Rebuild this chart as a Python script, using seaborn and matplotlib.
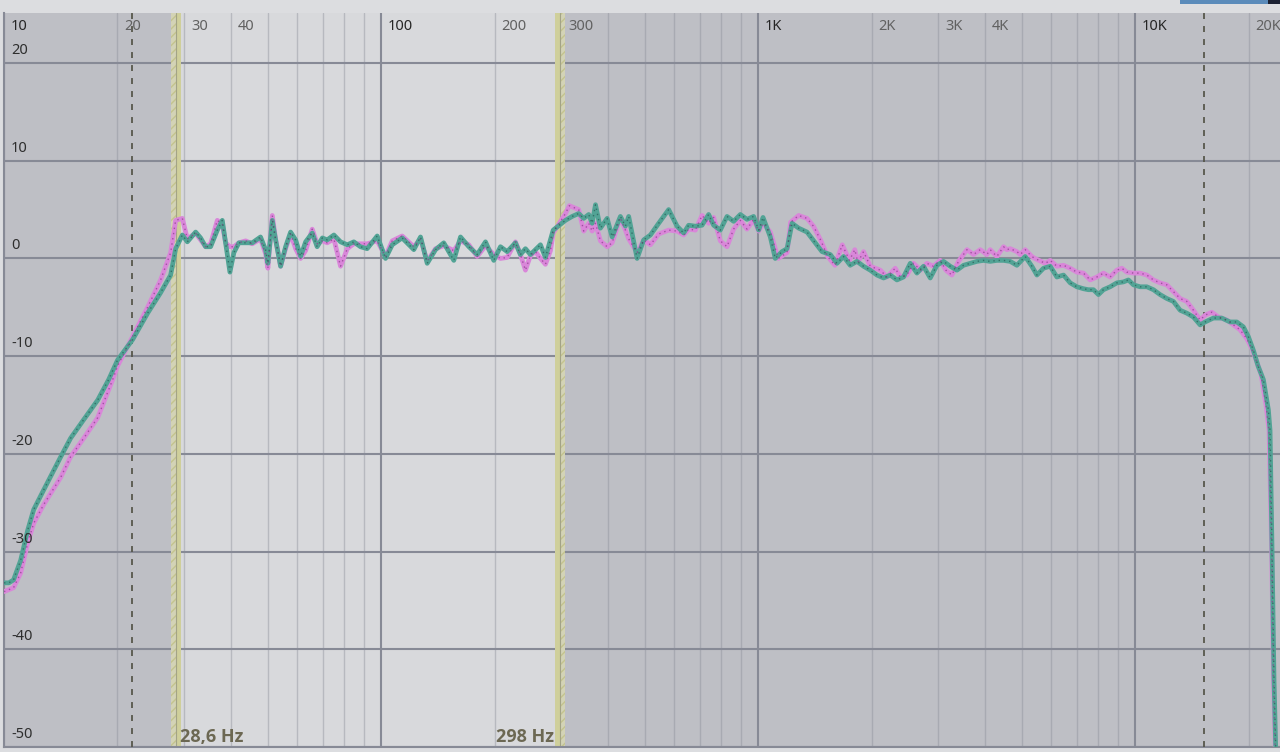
import pandas as pd
import seaborn as sns
import matplotlib.pyplot as plt
import matplotlib.transforms as mtransforms
from matplotlib.patches import Rectangle

teal_hz = [10.0, 10.3, 10.6, 11.07, 11.56, 11.99, 12.74, 14.14, 15.02, 16.27, 17.72, 18.95, 20.01, 21.94, 24.04, 26.03, 27.67, 28.53,
           29.72, 30.64, 32.23, 33.23, 34.26, 35.32, 36.8, 37.93, 38.71, 39.74, 40.72, 41.98, 43.74, 45.56, 47.91, 49.4, 50.11,
           51.48, 52.53, 54.16, 55.84, 57.57, 59.36, 61.2, 63.1, 65.7, 67.7, 69.9, 72.0, 75.0, 78.1, 81.4, 84.7, 88.2, 91.9,
           97.7, 102.8, 107.1, 113.8, 122.2, 127.3, 132.6, 139.5, 146.7, 156.0, 162.5, 171.0, 179.9, 189.3, 199.1, 207.4,
           216.1, 227.3, 234.3, 241.6, 249.1, 256.8, 264.8, 273.0, 281.5, 286.2,
           308.5, 321.3, 334.5, 344.9, 355.6, 363.1, 370.6, 381.9, 397.9, 410.2, 431.5, 444.9, 453.9, 477.8, 497.5, 518.3,
           545.2, 579.4, 610.0, 635.1, 654.6, 682.0, 710.5, 739.6, 762.6, 794.3, 827.5, 861.5, 897.6, 935.0, 973.4, 1004,
           1031, 1078, 1111, 1158, 1194, 1231, 1282, 1349, 1419, 1478, 1555, 1620, 1686, 1756, 1830, 1905, 1985, 2068,
           2153, 2243, 2336, 2432, 2534, 2639, 2748, 2863, 2982, 3105, 3235, 3370, 3509, 3655, 3807, 3964, 4129, 4301,
           4479, 4666, 4860,
           5113, 5326, 5492, 5718, 5957, 6205, 6462, 6730, 7010, 7300, 7522, 7757, 7998, 8246, 8590, 8948, 9318, 9605,
           9903, 10316, 10747, 11190, 11655, 12142, 12643, 13171, 13721, 14286, 14882, 15344, 16140, 16986, 17868, 18616,
           19381, 19980, 20600, 21200, 21900, 22580, 22810, 23090, 23370, 23660]
teal_db = [-33.2, -33.2, -32.9, -30.9, -27.8, -25.7, -23.7, -20.3, -18.4, -16.5, -14.5, -12.4, -10.4, -8.3, -5.6, -3.5, -1.7, 1.0,
           2.4, 1.7, 2.7, 2.1, 1.2, 1.2, 2.9, 3.9, 1.6, -1.4, 0.6, 1.6, 1.6, 1.6, 2.2, 0.9, -0.5,
           3.9, 1.9, -0.8, 1.2, 2.7, 1.9, 0.2, 1.7, 2.6, 1.2, 2.1, 1.9, 2.4, 1.7, 1.4, 1.7, 1.2, 1.0,
           2.3, 0.0, 1.4, 2.1, 0.9, 2.2, -0.5, 0.9, 1.6, -0.2, 2.2, 1.2, 0.4, 1.7, -0.2, 1.2,
           0.7, 1.6, 0.4, 1.0, 0.4, 0.9, 1.4, 0.1, 1.9, 2.9,
           3.9, 4.3, 4.6, 4.1, 4.5, 3.6, 5.5, 3.1, 4.1, 2.2, 4.3, 3.3, 4.3, 0.0, 1.9, 2.4,
           3.6, 5.0, 3.3, 2.6, 3.4, 3.3, 3.4, 4.5, 3.4, 2.9, 4.3, 3.8, 4.5, 4.0, 4.3, 2.9,
           4.2, 2.2, 0.0, 0.7, 1.0, 3.6, 3.1, 2.7, 1.6, 0.7, 0.4, -0.5, 0.2, -0.7, -0.3, -0.8, -1.2, -1.7,
           -2.0, -1.7, -2.2, -1.9, -0.5, -1.5, -0.8, -2.0, -0.7, -0.3, -0.8, -1.2, -0.7, -0.5, -0.3, -0.2, -0.3, -0.2,
           -0.2, -0.3, -0.7,
           0.2, -0.8, -1.7, -1.0, -0.8, -1.9, -1.7, -2.5, -2.9, -3.1, -3.2, -3.2, -3.7, -3.2, -2.9, -2.5, -2.4, -2.2,
           -2.7, -2.9, -2.9, -3.2, -3.7, -4.1, -4.4, -5.3, -5.6, -6.0, -6.8, -6.5, -6.1, -6.1, -6.5, -6.5,
           -7.0, -8.0, -9.4, -11.0, -12.4, -15.5, -17.6, -29.8, -43.1, -51.4]

pink_hz = [10.0, 10.6, 11.07, 11.56, 11.99, 12.74, 14.14, 15.02, 16.27, 17.72, 19.42, 20.01, 21.94, 24.04, 26.03, 27.67, 28.53,
           29.72, 30.64, 32.23, 33.23, 34.26, 35.32, 36.8, 37.93, 38.71, 39.74, 40.72, 41.98, 43.74, 45.56, 47.91, 49.4, 50.11,
           51.48, 52.53, 54.16, 55.84, 57.57, 59.36, 61.2, 63.1, 65.7, 67.7, 69.9, 72.0, 75.0, 78.1, 81.4, 84.7, 88.2, 91.9,
           97.7, 102.8, 107.1, 113.8, 122.2, 127.3, 132.6, 139.5, 146.7, 156.0, 162.5, 171.0, 179.9, 189.3, 199.1, 207.4,
           216.1, 227.3, 234.3, 241.6, 249.1, 256.8, 264.8, 273.0, 281.5, 286.2,
           308.5, 316.0, 334.5, 344.9, 355.6, 363.1, 370.6, 381.9, 397.9, 410.2, 431.5, 444.9, 453.9, 477.8, 497.5, 518.3,
           545.2, 579.4, 610.0, 635.1, 654.6, 682.0, 710.5, 739.6, 762.6, 794.3, 827.5, 861.5, 897.6, 935.0, 973.4, 1004,
           1031, 1078, 1111, 1132, 1194, 1220, 1282, 1349, 1403, 1465, 1530, 1600, 1673, 1748, 1806, 1840, 1905, 1985,
           2111, 2198, 2312, 2384, 2483, 2585, 2700, 2805, 2920, 3043, 3150, 3268, 3402, 3583, 3729, 3885, 4047, 4129,
           4301, 4479, 4572, 4666, 4860, 4960, 5113, 5326, 5426, 5778, 5957, 6205, 6462, 6730, 7010, 7300, 7603, 7921,
           8246, 8590, 8948, 9226, 9513, 9903, 10316, 10747, 11190, 11655, 12142, 12643, 13171, 13721, 14286, 14882,
           15344, 15985, 16640, 17515, 18239, 18993, 19787, 20400, 20950, 21600, 22260, 22670, 23030, 23300, 23590]
pink_db = [-34.1, -33.7, -32.2, -29.1, -27.1, -25.2, -22.4, -20.3, -18.4, -16.3, -12.4, -11.0, -8.0, -5.0, -2.2, 0.6, 3.9,
           4.1, 2.0, 2.6, 1.9, 1.2, 1.5, 3.9, 3.5, 1.6, 1.2, 1.2, 1.6, 1.8, 1.5, 2.0, 0.5, -1.0,
           4.4, 2.0, -0.8, 1.0, 2.5, 1.0, 0.0, 0.8, 3.0, 1.5, 1.8, 1.6, 2.0, -0.8, 1.0, 1.5, 1.5, 1.5,
           1.8, 0.2, 1.8, 2.3, 1.2, 2.0, -0.3, 1.0, 1.3, 0.8, 1.8, 1.4, 0.2, 1.3, 0.4, 0.0,
           0.1, 1.7, 0.4, -1.2, 0.3, 0.7, 0.0, -0.6, 0.8, 2.6,
           4.6, 5.4, 5.0, 2.8, 3.6, 2.8, 3.6, 1.8, 1.2, 1.6, 4.2, 2.9, 2.0, 0.6, 1.9, 1.4,
           2.5, 2.9, 2.8, 2.4, 3.0, 2.9, 4.4, 3.6, 4.2, 1.8, 1.2, 3.0, 3.9, 3.0, 4.0, 2.8,
           3.6, 2.7, 1.0, 0.0, 0.6, 3.7, 4.4, 4.1, 3.3, 1.9, 0.2, -0.7, 1.4, -0.2, 0.9, -0.4, 0.7, -0.8,
           -1.2, -1.9, -1.0, -1.9, -1.7, -0.5, -1.2, -0.5, -0.8, -0.2, -1.2, -1.7, -0.3, 0.9, 0.4, 0.9, 0.4, 0.9,
           0.2, 1.2, 0.9, 1.0, 0.7, 0.4, 0.9, 0.2, 0.0, -0.5, -0.2, -0.8, -0.7, -1.0, -1.4, -1.5, -2.2, -1.9,
           -1.5, -1.9, -1.2, -1.0, -1.4, -1.5, -1.5, -1.7, -2.2, -2.5, -2.7, -3.4, -4.1, -4.4, -5.3, -6.3,
           -5.8, -5.5, -6.0, -6.3, -6.8, -7.3, -8.2, -9.2, -10.4, -11.9, -15.0, -17.6, -29.8, -43.1, -51.4]

# axis labels / markers
x_ticks = [10, 20, 30, 40, 100, 200, 300, 1000, 2000, 3000, 4000, 10000, 20000]
x_labels = ['10', '20', '30', '40', '100', '200', '300', '1K', '2K', '3K', '4K', '10K', '20K']
y_ticks = [20, 10, 0, -10, -20, -30, -40, -50]
marker_hz = [28.6, 298]
marker_labels = ['28,6 Hz', '298 Hz']
dash_hz = [21.9, 15200]

assert len(teal_hz) == len(teal_db) and len(pink_hz) == len(pink_db)

sns.set_theme(style='white')
plt.rcParams['font.family'] = ['Noto Sans', 'DejaVu Sans']

W, H = 1280, 752
fig = plt.figure(figsize=(W / 100, H / 100), dpi=100, facecolor='#dcdde0')
ax = fig.add_axes([4 / W, 5 / H, 1 - 4 / W, (H - 13 - 5) / H])
ax.set_xscale('log')

dark_bg = '#bebfc5'
light_bg = '#d8d9dc'
ax.set_facecolor(dark_bg)

# response curves: thick stroke with dark dots on top
curves = [(pink_hz, pink_db, '#d987d9', '#8d3f8d'),
          (teal_hz, teal_db, '#52a395', '#2a5f58')]
for hz, db, c_line, c_dot in curves:
    df = pd.DataFrame({'hz': hz, 'db': db})
    sns.lineplot(data=df, x='hz', y='db', ax=ax, color=c_line, lw=3.4,
                 sort=False, estimator=None, zorder=4)
    sns.lineplot(data=df, x='hz', y='db', ax=ax, color=c_dot, lw=1.0, ls=(0, (1, 2.8)),
                 alpha=0.75, sort=False, estimator=None, zorder=5)
ax.set_xlabel('')
ax.set_ylabel('')

ax.set_xlim(10, 24240)
ax.set_ylim(-50, 25.12)

# marker bands (solid part faces the light window, hatched part outside)
w = 1.031
lo, hi = marker_hz
ax.axvspan(lo * w, hi / w, color=light_bg, lw=0, zorder=0)
ax.axvspan(lo / w, lo, facecolor='#d3d3b6', edgecolor='#c4c48e', hatch='////', lw=0, zorder=1)
ax.axvspan(lo, lo * w, color='#cfcf9b', lw=0, zorder=1)
ax.axvspan(hi / w, hi, color='#cfcf9b', lw=0, zorder=1)
ax.axvspan(hi, hi * w, facecolor='#d3d3b6', edgecolor='#c4c48e', hatch='////', lw=0, zorder=1)
for f in marker_hz:
    ax.axvline(f, color='#a3a386', lw=0.8, zorder=1.5)

# grid
minor = [m * 10 ** k for k in range(1, 5) for m in range(2, 10)]
ax.set_xticks([10, 100, 1000, 10000])
ax.set_xticks(minor, minor=True)
ax.set_yticks(y_ticks)
ax.set_xlim(10, 24240)
ax.tick_params(which='both', length=0, labelbottom=False, labelleft=False)
ax.grid(True, which='major', axis='x', color='#878a96', lw=1.5, zorder=2)
ax.grid(True, which='minor', axis='x', color='#8f929c', lw=1.0, alpha=0.45, zorder=2)
ax.grid(True, which='major', axis='y', color='#878a96', lw=1.5, zorder=2)
ax.set_axisbelow(True)
for side, sp in ax.spines.items():
    sp.set_visible(side in ('left', 'bottom'))
    sp.set_color('#878a96')
    sp.set_linewidth(1.5)

for f in dash_hz:
    ax.axvline(f, color='#57574c', lw=1.3, ls=(0, (3.3, 3.9)), zorder=3)

# tick labels drawn inside the plot
xtr = mtransforms.blended_transform_factory(ax.transData, ax.transAxes)
xtr = mtransforms.offset_copy(xtr, fig=fig, x=7, y=-14, units='dots')
for v, lab in zip(x_ticks, x_labels):
    decade = lab in ('10', '100', '1K', '10K')
    ax.text(v, 1, lab, transform=xtr, ha='left', va='center', fontsize=10.5,
            color='#262626' if decade else '#616161', zorder=6)

ytr = mtransforms.blended_transform_factory(ax.transAxes, ax.transData)
ytr = mtransforms.offset_copy(ytr, fig=fig, x=7, y=12.5, units='dots')
for v in y_ticks:
    ax.text(0, v, str(v), transform=ytr, ha='left', va='center', fontsize=10.5,
            color='#2e2e2e', zorder=6)

# marker captions along the bottom
btr = mtransforms.blended_transform_factory(ax.transData, ax.transAxes)
cap_font = ['Open Sans', 'DejaVu Sans']
ax.text(lo * w, 0, marker_labels[0], ha='left', va='baseline', fontsize=13, fontweight='bold',
        family=cap_font, color='#6c6853', zorder=6,
        transform=mtransforms.offset_copy(btr, fig=fig, x=-1, y=5, units='dots'))
ax.text(hi / w, 0, marker_labels[1], ha='right', va='baseline', fontsize=13, fontweight='bold',
        family=cap_font, color='#6c6853', zorder=6,
        transform=mtransforms.offset_copy(btr, fig=fig, x=-1, y=5, units='dots'))

# window chrome bits in the top strip
fig.add_artist(Rectangle((1180 / W, 1 - 4 / H), 88 / W, 4 / H, transform=fig.transFigure,
                         color='#5b8bba', lw=0))
fig.add_artist(Rectangle((1268 / W, 1 - 4 / H), 12 / W, 4 / H, transform=fig.transFigure,
                         color='#1c2233', lw=0))

fig.savefig('out.png', dpi=100, facecolor=fig.get_facecolor())
